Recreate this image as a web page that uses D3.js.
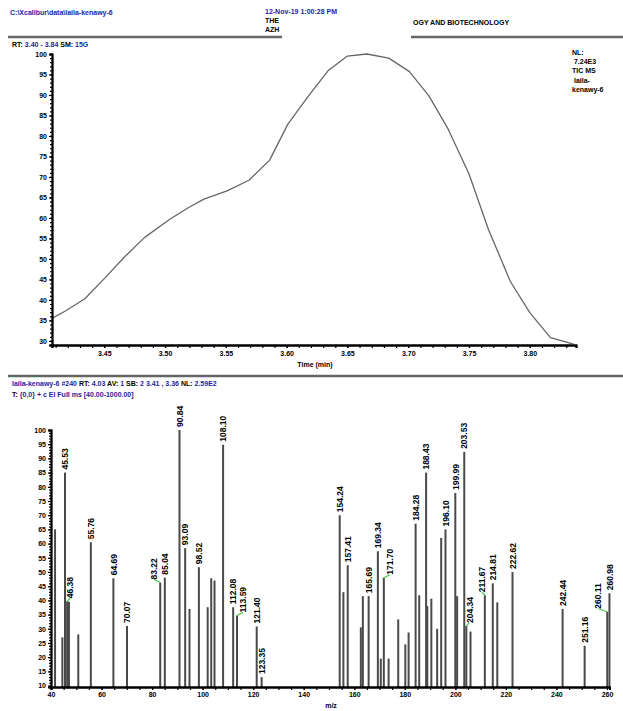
<!DOCTYPE html>
<html>
<head>
<meta charset="utf-8">
<script src="https://cdn.jsdelivr.net/npm/d3@7"></script>
<style>
body { margin: 0; background: #fff; }
svg { display: block; font-family: "Liberation Sans", Arial, sans-serif; }
</style>
</head>
<body>
<div id="chart"></div>
<script>
// TIC chromatogram scan points (time in min, relative abundance)
var ticTimes = [3.407, 3.418, 3.434, 3.451, 3.466, 3.483, 3.503, 3.519, 3.532, 3.551, 3.569, 3.586, 3.601, 3.618,
                3.634, 3.650, 3.666, 3.684, 3.701, 3.717, 3.733, 3.750, 3.766, 3.784, 3.800, 3.817, 3.836];
var ticValues = [35.5, 37.3, 40.3, 45.5, 50.3, 55.2, 59.5, 62.5, 64.6, 66.6, 69.2, 74.1, 82.9, 89.8,
                 95.9, 99.5, 100, 99.0, 95.7, 89.8, 81.6, 70.7, 57.2, 44.5, 36.9, 30.8, 29.2];
var ticTimeLabels = [3.45, 3.50, 3.55, 3.60, 3.65, 3.70, 3.75, 3.80];

// mass spectrum of scan #240
var peakMz = [41.6, 44.5, 45.53, 46.38, 47.1, 50.8, 55.76, 64.69, 70.07, 83.22, 85.04, 90.84, 93.09, 94.8,
              98.52, 102.0, 103.4, 104.7, 108.10, 112.08, 113.59, 121.40, 123.35, 154.24, 155.7, 157.41,
              162.6, 163.4, 165.69, 169.34, 170.5, 171.70, 173.6, 177.4, 180.2, 181.5, 184.28, 185.7,
              188.43, 188.9, 190.5, 192.8, 194.4, 196.10, 199.99, 200.7, 203.53, 204.34, 206.0, 211.67,
              214.81, 216.6, 222.62, 242.44, 251.16, 260.11, 260.98];
var peakInt = [65, 27, 85, 39.7, 39.5, 28, 60.5, 47.8, 31, 46.3, 48, 100, 58.4, 37,
               51.7, 37.6, 47.8, 47, 94.8, 37.6, 34.7, 30.8, 13, 70, 42.9, 52.4,
               30.5, 41.5, 41.5, 57.3, 19.5, 48, 19.5, 33.3, 24.5, 28.7, 67, 41.8,
               85, 38, 40.6, 30, 62, 65, 77.8, 41.5, 92.3, 31, 29, 41.8,
               46, 39.3, 50, 37, 24, 36, 42.5];
var peakLabeled = [0, 0, 1, 1, 0, 0, 1, 1, 1, 1, 1, 1, 1, 0,
                   1, 0, 0, 0, 1, 1, 1, 1, 1, 1, 0, 1,
                   0, 0, 1, 1, 0, 1, 0, 0, 0, 0, 1, 0,
                   1, 0, 0, 0, 0, 1, 1, 0, 1, 1, 0, 1,
                   1, 0, 1, 1, 1, 1, 1];
var mzTickLabels = [40, 60, 80, 100, 120, 140, 160, 180, 200, 220, 240, 260];

var W = 623, H = 711;
var blue = "#1d1d9e";
var svg = d3.select("#chart").append("svg").attr("width", W).attr("height", H);

// helper for mixed colour header lines
function infoLine(x, y, parts) {
  var t = svg.append("text").attr("x", x).attr("y", y)
    .attr("font-size", 7).attr("font-weight", "bold");
  parts.forEach(function(p) {
    t.append("tspan").attr("fill", p[1] ? blue : "#000").text(p[0]);
  });
  return t;
}

// ---- page header
infoLine(10, 15, [["C:\\Xcalibur\\data\\laila-kenawy-6", 1]]);
infoLine(265, 14, [["12-Nov-19 1:00:28 PM", 1]]);
infoLine(265, 23, [["THE", 0]]);
infoLine(265, 32, [["AZH", 0]]);
infoLine(413, 25, [["OGY AND BIOTECHNOLOGY", 0]]);

svg.append("line").attr("x1", 8).attr("x2", 282).attr("y1", 37).attr("y2", 37)
  .attr("stroke", "#666").attr("stroke-width", 2.5);
svg.append("line").attr("x1", 411).attr("x2", 623).attr("y1", 37).attr("y2", 37)
  .attr("stroke", "#666").attr("stroke-width", 2.5);

infoLine(12, 47, [["RT: ", 0], ["3.40 - 3.84", 1], ["   SM: ", 0], ["15G", 1]]);

// ---- chromatogram
var tx = d3.scaleLinear().domain([3.407, 3.838]).range([52, 576]);
var ty = d3.scaleLinear().domain([29, 100]).range([345, 54]);

var gTop = svg.append("g");

gTop.append("path")
  .datum(ticTimes)
  .attr("fill", "none")
  .attr("stroke", "#666")
  .attr("stroke-width", 1.3)
  .attr("stroke-linejoin", "round")
  .attr("d", d3.line()
    .x(function(d) { return tx(d); })
    .y(function(d, i) { return ty(ticValues[i]); }));

// y axis: minor ticks every 1, labels every 5
gTop.append("g")
  .attr("transform", "translate(52,0)")
  .call(d3.axisLeft(ty).tickValues(d3.range(30, 101, 1)).tickSize(2).tickFormat(""));
gTop.append("g")
  .attr("class", "lab")
  .attr("transform", "translate(52,0)")
  .call(d3.axisLeft(ty).tickValues(d3.range(30, 101, 5)).tickSize(3).tickPadding(2).tickFormat(d3.format("d")));

// x axis
gTop.append("g")
  .attr("transform", "translate(0,345)")
  .call(d3.axisBottom(tx).tickValues(d3.range(3.41, 3.835, 0.01)).tickSize(3).tickFormat(""));
gTop.append("g")
  .attr("class", "lab")
  .attr("transform", "translate(0,345)")
  .call(d3.axisBottom(tx).tickValues(ticTimeLabels).tickSize(3).tickPadding(3).tickFormat(d3.format(".2f")));

gTop.append("text").attr("x", 315).attr("y", 367).attr("text-anchor", "middle")
  .attr("font-size", 7).attr("font-weight", "bold").text("Time (min)");

// right legend
["NL:", " 7.24E3", "TIC MS", " laila-", "kenawy-6"].forEach(function(s, i) {
  svg.append("text").attr("x", 572).attr("y", 55 + i * 9.2)
    .attr("font-size", 7).attr("font-weight", "bold")
    .attr("xml:space", "preserve").text(s);
});

svg.append("line").attr("x1", 8).attr("x2", 623).attr("y1", 376).attr("y2", 376)
  .attr("stroke", "#666").attr("stroke-width", 2.5);

// ---- spectrum header
infoLine(12, 386, [["laila-kenawy-6 #240", 1], ["  RT: ", 0], ["4.03", 1], ["  AV: ", 0], ["1", 1],
                   ["  SB: ", 0], ["2 3.41 , 3.36", 1], ["  NL: ", 0], ["2.59E2", 1]]);
infoLine(12, 397, [["T: ", 0], ["{0,0}  + c EI Full ms [40.00-1000.00]", 1]]);

// ---- spectrum
var mx = d3.scaleLinear().domain([40, 261]).range([51, 609.5]);
var my = d3.scaleLinear().domain([9.5, 100]).range([687, 430]);

var gBot = svg.append("g");

var peaks = peakMz.map(function(m, i) {
  return { mz: m, val: peakInt[i], lab: peakLabeled[i], x: mx(m), top: my(peakInt[i]) };
});

gBot.selectAll("line.peak")
  .data(peaks)
  .enter().append("line")
  .attr("class", "peak")
  .attr("x1", function(d) { return d.x; })
  .attr("x2", function(d) { return d.x; })
  .attr("y1", my(9.5))
  .attr("y2", function(d) { return d.top; })
  .attr("stroke", "#4a4a4a")
  .attr("stroke-width", 2);

// place peak labels, tallest first, nudging sideways when they hit other bars or labels
var half = 4.5;
var placed = [];
var toLabel = peaks.filter(function(d) { return d.lab; })
  .sort(function(a, b) { return b.val - a.val; });
var shifts = [0, 3, -3, 6, -6, 9, -9, 12, -12];
toLabel.forEach(function(d) {
  var txt = d.mz.toFixed(2);
  var len = txt.length * 4.8;
  var y1 = d.top - 2 - len, y2 = d.top - 2;
  for (var k = 0; k < shifts.length; k++) {
    var lx = d.x + shifts[k];
    var hit = peaks.some(function(p) {
      return p !== d && Math.abs(p.x - lx) < half && p.top < y2;
    }) || placed.some(function(q) {
      return Math.abs(q.lx - lx) < 2 * half && q.y1 < y2 && q.y2 > y1;
    });
    if (!hit) break;
  }
  placed.push({ d: d, lx: lx, y1: y1, y2: y2, txt: txt });
});

placed.forEach(function(p) {
  if (p.lx !== p.d.x) {
    gBot.append("line")
      .attr("x1", p.d.x).attr("y1", p.d.top)
      .attr("x2", p.lx).attr("y2", p.d.top - 3)
      .attr("stroke", "#4c4").attr("stroke-width", 1.2);
  }
  gBot.append("text")
    .attr("transform", "translate(" + (p.lx + 3.2) + "," + (p.y2 - 1) + ") rotate(-90)")
    .attr("font-size", 8.5)
    .attr("font-weight", "bold")
    .text(p.txt);
});

// axes
gBot.append("g")
  .attr("transform", "translate(51,0)")
  .call(d3.axisLeft(my).tickValues(d3.range(10, 101, 1)).tickSize(2).tickFormat(""));
gBot.append("g")
  .attr("class", "lab")
  .attr("transform", "translate(51,0)")
  .call(d3.axisLeft(my).tickValues(d3.range(10, 101, 5)).tickSize(3).tickPadding(2).tickFormat(d3.format("d")));
gBot.append("g")
  .attr("transform", "translate(0,687)")
  .call(d3.axisBottom(mx).tickValues(d3.range(45, 261, 5)).tickSize(3).tickFormat(""));
gBot.append("g")
  .attr("class", "lab")
  .attr("transform", "translate(0,687)")
  .call(d3.axisBottom(mx).tickValues(mzTickLabels).tickSize(3).tickPadding(2).tickFormat(d3.format("d")));

gBot.append("text").attr("x", 331).attr("y", 708).attr("text-anchor", "middle")
  .attr("font-size", 7).attr("font-weight", "bold").text("m/z");

// axis styling
svg.selectAll(".domain").attr("stroke", "#000").attr("stroke-width", 1.8);
svg.selectAll(".tick line").attr("stroke", "#000").attr("stroke-width", 1.2);
svg.selectAll(".lab text").attr("font-size", 7).attr("font-weight", "bold")
  .attr("font-family", "Liberation Sans, Arial, sans-serif").attr("fill", "#000");
</script>
</body>
</html>
